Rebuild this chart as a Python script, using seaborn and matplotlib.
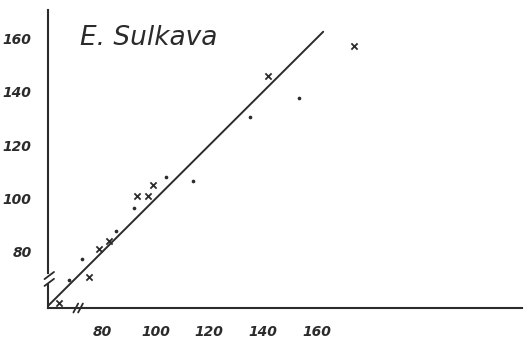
import numpy as np
import pandas as pd
import matplotlib
matplotlib.use("Agg")
import matplotlib.pyplot as plt
import seaborn as sns

# Data
cross_x = [64, 75, 79, 82.5, 93, 97, 99, 142, 174]
cross_y = [61, 70.5, 81, 84, 101, 101, 105, 146, 157]
dot_x = [67.5, 72.5, 85, 92, 104, 114, 135, 153.5]
dot_y = [69.5, 77.5, 88, 96.5, 108, 106.5, 130.5, 137.5]
line_x = [60, 162.5]
line_y = [60, 162.5]
x_ticks = [80, 100, 120, 140, 160]
y_ticks = [80, 100, 120, 140, 160]
title_text = "E. Sulkava"

df = pd.DataFrame({
    "x": cross_x + dot_x,
    "y": cross_y + dot_y,
    "kind": ["cross"] * len(cross_x) + ["dot"] * len(dot_x),
})

sns.set_style("white")
ink = "#2b2b2b"

fig = plt.figure(figsize=(5.24, 3.42), dpi=100)
ax = fig.add_axes([0.0922, 0.0994, 0.904, 0.871])

sns.lineplot(x=line_x, y=line_y, ax=ax, color=ink, linewidth=1.4)
sns.scatterplot(data=df[df.kind == "cross"], x="x", y="y", ax=ax, marker="x",
                color=ink, s=20, linewidth=1.3, legend=False, zorder=3)
sns.scatterplot(data=df[df.kind == "dot"], x="x", y="y", ax=ax, marker="o",
                color=ink, s=7, linewidth=0, legend=False, zorder=3)

ax.set_xlim(59.9, 236.7)
ax.set_ylim(59.0, 170.6)
ax.set_xticks(x_ticks)
ax.set_yticks(y_ticks)
lab_kw = dict(fontstyle="italic", fontweight="bold", fontsize=10, color=ink)
ax.set_xticklabels([str(t) for t in x_ticks], **lab_kw)
ax.set_yticklabels([str(t) for t in y_ticks], **lab_kw)
ax.tick_params(axis="both", direction="inout", length=6, width=1.3, color=ink)
ax.tick_params(axis="x", pad=9)
ax.tick_params(axis="y", pad=9)
ax.set_xlabel("")
ax.set_ylabel("")

for side in ["top", "right"]:
    ax.spines[side].set_visible(False)
for side in ["left", "bottom"]:
    ax.spines[side].set_color(ink)
    ax.spines[side].set_linewidth(1.5)

# axis break marks (axes fraction coordinates)
tr = ax.transAxes
# y-axis break: white gap + two slashes
ax.plot([0, 0], [0.086, 0.109], transform=tr, color="white", lw=3, clip_on=False, zorder=5)
for yb in (0.086, 0.109):
    ax.plot([-0.008, 0.012], [yb - 0.012, yb + 0.012], transform=tr, color=ink,
            lw=1.3, clip_on=False, zorder=6)
# x-axis break: two slashes
for xb in (0.058, 0.068):
    ax.plot([xb - 0.005, xb + 0.005], [-0.015, 0.015], transform=tr, color=ink,
            lw=1.3, clip_on=False, zorder=6)

ax.text(0.067, 0.905, title_text, transform=tr, fontsize=19, color=ink,
        fontstyle="italic", fontweight="light", va="center", ha="left")

fig.savefig("out.png", dpi=100, facecolor="white")
